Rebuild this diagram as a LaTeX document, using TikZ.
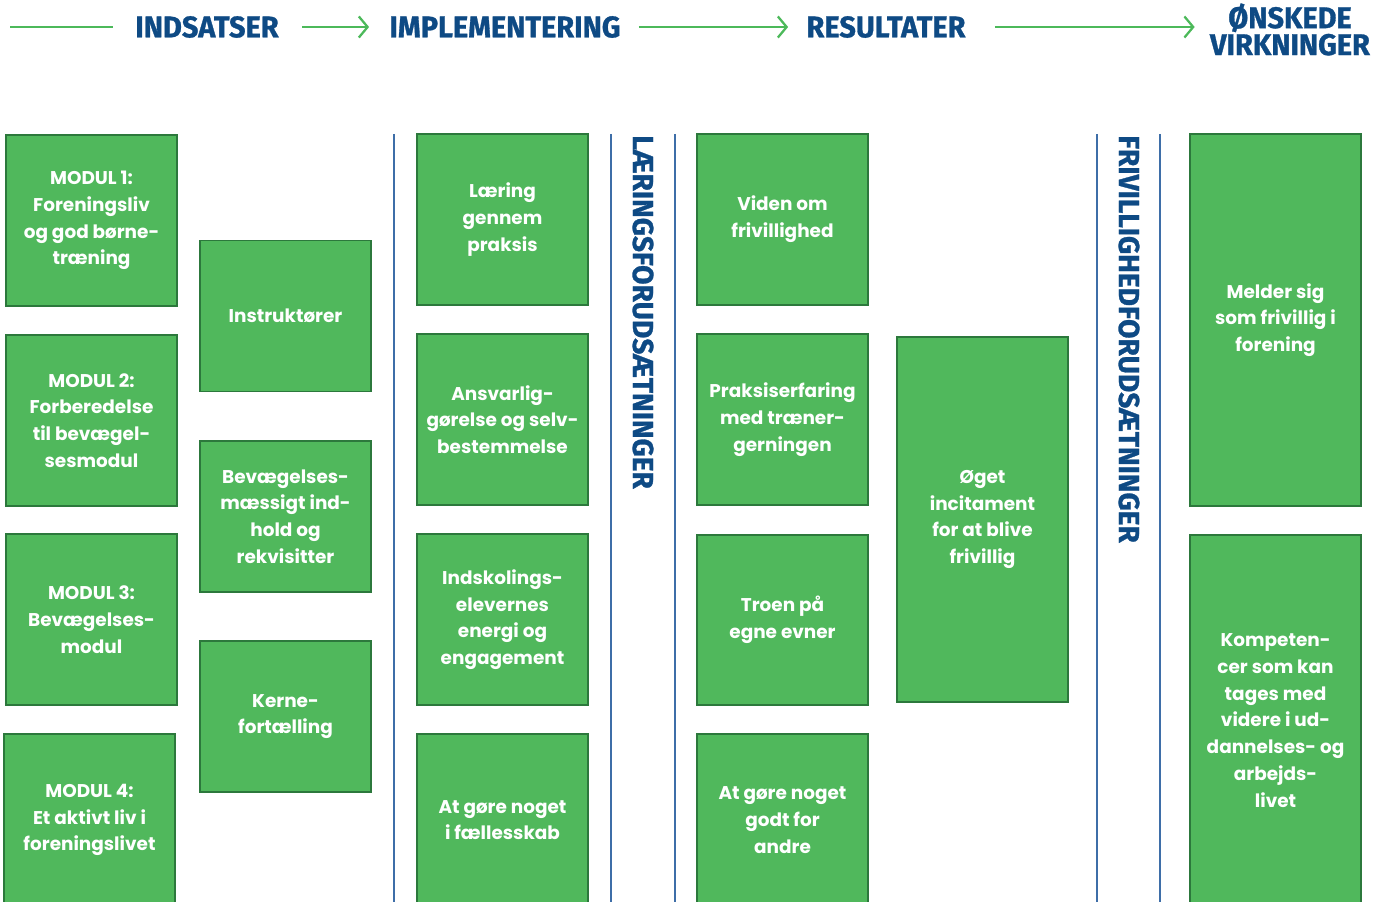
\documentclass[tikz,border=0pt]{standalone}
\usepackage{fontspec}
\setmainfont{Poppins}
\newfontfamily\headfont[FakeStretch=0.97,FakeBold=1]{Fira Sans}
\usetikzlibrary{arrows.meta}
\usetikzlibrary{positioning}

\definecolor{boxgreen}{RGB}{80,184,92}
\definecolor{boxedge}{RGB}{44,120,60}
\definecolor{headblue}{RGB}{14,74,132}
\definecolor{rulegreen}{RGB}{76,185,90}
\definecolor{sepblue}{RGB}{62,110,168}

\tikzset{
  box/.style={draw=boxedge,fill=boxgreen,line width=0.8pt,text=white,align=center,
    inner sep=0pt,minimum width=3.42cm,font=\bfseries\fontsize{10.5}{15.2}\selectfont},
  head/.style={text=headblue,inner sep=0pt,align=center,
    font=\headfont\bfseries\fontsize{17}{15.3}\selectfont},
  sidelabel/.style={text=headblue,inner sep=0pt,rotate=-90,anchor=west,
    font=\headfont\bfseries\fontsize{16.5}{18}\selectfont},
  flow/.style={rulegreen,line width=1.3pt,-{Straight Barb[length=5pt,width=12pt]}},
  sepline/.style={sepblue,line width=0.9pt}
}

\begin{document}
\begin{tikzpicture}[x=0.02cm,y=-0.02cm]
\useasboundingbox (0,0) rectangle (1386,902);
\clip (0,0) rectangle (1386,902);

% header
\node[head] (ind)  at (207,27)    {INDSATSER};
\node[head] (impl) at (505,27)    {IMPLEMENTERING};
\node[head] (res)  at (886,27)    {RESULTATER};
\node[head] (onsk) at (1290,29.5) {ØNSKEDE\\VIRKNINGER};
\coordinate (start) at (10,27);
\draw[rulegreen,line width=1.3pt,shorten >=0.44cm] (start) -- (ind.west);
\draw[flow,shorten <=0.46cm,shorten >=0.4cm] (ind.east) -- (impl.west);
\draw[flow,shorten <=0.36cm,shorten >=0.36cm] (impl.east) -- (res.west);
\draw[flow,shorten <=0.58cm,shorten >=0.3cm] (res.east) -- (res.east -| onsk.west);

% separators
\foreach \x in {394,611,675,1097,1160}{%
  \draw[sepline] (\x,134) -- (\x,902);
}
\node[sidelabel] (laer) at (643,135)  {LÆRINGSFORUDSÆTNINGER};
\node[sidelabel] (friv) at (1129,135) {FRIVILLIGHEDFORUDSÆTNINGER};

% indsatser
\node[box,minimum height=3.42cm] (m1) at (91.5,220.5) {MODUL 1:\\Foreningsliv\\og god børne-\\træning};
\node[box,minimum height=3.42cm] (m2) at (91.5,420.5) {MODUL 2:\\Forberedelse\\til bevægel-\\sesmodul};
\node[box,minimum height=3.42cm] (m3) at (91.5,619.5) {MODUL 3:\\Bevægelses-\\modul};
\node[box,minimum height=3.44cm] (m4) at (89.5,820)   {MODUL 4:\\Et aktivt liv i\\foreningslivet};
\node[box,minimum height=3.02cm] (instr) at (285.5,316)   {Instruktører};
\node[box,minimum height=3.02cm] (bevag) at (285.5,516.5) {Bevægelses-\\mæssigt ind-\\hold og\\rekvisitter};
\node[box,minimum height=3.02cm] (kerne) at (285.5,716.5) {Kerne-\\fortælling};

% implementering
\node[box,minimum height=3.42cm] (laering) at (502.5,219.5) {Læring\\gennem\\praksis};
\node[box,minimum height=3.42cm] (ansvar)  at (502.5,419.5) {Ansvarlig-\\gørelse og selv-\\bestemmelse};
\node[box,minimum height=3.42cm] (indsk)   at (502.5,619.5) {Indskolings-\\elevernes\\energi og\\engagement};
\node[box,minimum height=3.44cm] (faelles) at (502.5,820)   {At gøre noget\\i fællesskab};

% resultater
\node[box,minimum height=3.42cm] (viden)   at (782.5,219.5) {Viden om\\frivillighed};
\node[box,minimum height=3.42cm] (praksis) at (782.5,419.5) {Praksiserfaring\\med træner-\\gerningen};
\node[box,minimum height=3.4cm]  (troen)   at (782.5,620)   {Troen på\\egne evner};
\node[box,minimum height=3.44cm] (godt)    at (782.5,820)   {At gøre noget\\godt for\\andre};
\node[box,minimum height=7.3cm]  (oget)    at (982.5,519.5) {Øget\\incitament\\for at blive\\frivillig};

% oenskede virkninger
\node[box,minimum height=7.44cm] (melder) at (1275.5,320)   {Melder sig\\som frivillig i\\forening};
\node[box,minimum height=7.42cm] (kompet) at (1275.5,720.5) {Kompeten-\\cer som kan\\tages med\\videre i ud-\\dannelses- og\\arbejds-\\livet};
\end{tikzpicture}
\end{document}
